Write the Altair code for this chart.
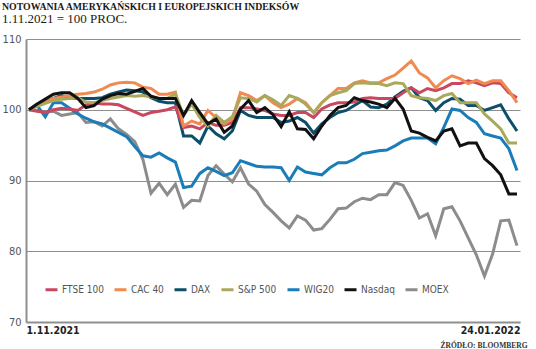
import altair as alt
import pandas as pd

# trading-day index 0..60 (1.11.2021 .. 24.01.2022)
ftse = [100, 99.8, 99.6, 100.0, 100.2, 100.1, 99.9, 100.7, 101.0, 100.8,
        100.8, 100.7, 100.2, 99.7, 99.2, 99.6, 99.8, 100.0, 100.4, 97.5,
        97.7, 97.3, 98.2, 97.8, 97.8, 98.2, 100.3, 100.3, 100.1, 99.9,
        99.4, 99.2, 99.2, 99.6, 99.6, 98.9, 100.1, 100.7, 101.0, 101.0,
        101.1, 101.6, 101.7, 101.6, 101.6, 101.6, 102.4, 103.1, 102.4, 103.0,
        102.7, 103.1, 103.7, 103.7, 104.1, 103.8, 103.4, 103.8, 103.7, 102.4,
        101.7]
cac = [100, 100.6, 101.1, 101.6, 101.8, 102.0, 102.2, 102.3, 102.5, 102.9,
       103.5, 103.8, 103.9, 103.8, 103.2, 103.0, 102.2, 102.2, 102.5, 97.7,
       98.4, 98.0, 99.9, 98.9, 98.0, 98.7, 102.4, 102.0, 101.3, 102.0,
       101.0, 100.3, 100.8, 101.6, 101.0, 99.6, 101.0, 102.0, 103.0, 103.0,
       103.8, 104.1, 103.8, 103.8, 104.4, 104.9, 105.9, 106.9, 105.2, 104.5,
       103.1, 104.1, 104.8, 104.4, 103.7, 104.2, 103.7, 104.1, 104.1, 102.7,
       101.0]
dax = [100, 100.8, 101.0, 101.6, 102.0, 101.7, 101.6, 101.6, 101.6, 101.7,
       102.2, 102.5, 102.8, 102.7, 102.5, 101.7, 101.2, 101.0, 101.0, 96.3,
       96.3, 95.3, 97.7, 96.6, 95.9, 97.0, 99.9, 99.2, 98.9, 98.9,
       98.9, 98.2, 98.4, 98.9, 98.2, 96.7, 98.0, 98.9, 99.6, 99.9,
       100.6, 101.3, 100.4, 100.3, 100.8, 101.8, 102.6, 103.1, 101.7, 101.3,
       99.9, 101.0, 101.6, 101.5, 100.6, 100.6, 99.9, 100.3, 100.7, 98.7,
       97.0]
sp500 = [100, 100.5, 100.9, 101.3, 101.5, 101.6, 101.7, 101.1, 101.0, 101.3,
         101.6, 101.8, 102.0, 101.9, 102.0, 101.8, 101.6, 101.6, 102.2, 99.2,
         100.8, 98.9, 97.7, 99.2, 98.2, 99.0, 101.7, 101.6, 101.1, 102.0,
         101.4, 100.6, 102.0, 101.6, 100.8, 99.6, 101.0, 102.0, 102.4, 102.7,
         103.7, 103.8, 103.7, 103.7, 103.4, 103.8, 103.7, 102.0, 101.7, 101.6,
         101.3, 102.0, 102.3, 101.0, 101.0, 101.0, 99.4, 98.4, 97.3, 95.3,
         95.3]
wig20 = [100, 100.6, 99.0, 101.0, 101.0, 100.2, 99.4, 98.8, 98.3, 98.0,
         97.4, 96.8, 96.2, 94.8, 93.5, 93.3, 93.9, 93.2, 92.6, 89.0,
         89.2, 91.0, 91.8, 91.3, 90.7, 91.1, 92.8, 92.4, 92.0, 91.9,
         91.9, 91.8, 90.0, 91.9, 91.2, 91.0, 90.8, 91.8, 92.5, 92.5,
         93.0, 93.8, 94.0, 94.2, 94.3, 94.9, 95.6, 96.0, 96.0, 96.0,
         95.2, 97.5, 100.1, 99.9, 98.9, 98.2, 96.6, 96.3, 96.0, 94.5,
         91.4]
nasdaq = [100, 100.8, 101.5, 102.2, 102.4, 102.4, 101.6, 100.3, 100.6, 101.5,
          102.0, 102.3, 102.2, 102.6, 103.0, 101.9, 101.6, 101.6, 101.6, 99.2,
          101.3, 99.6, 98.0, 98.7, 96.8, 97.7, 100.1, 101.3, 99.6, 100.3,
          99.3, 97.6, 99.7, 97.3, 97.2, 95.9, 97.7, 99.2, 100.3, 100.6,
          101.7, 101.3, 101.1, 100.8, 100.3, 101.6, 100.1, 97.0, 96.7, 96.1,
          95.6, 97.0, 97.3, 94.9, 95.3, 95.3, 93.1, 92.1, 90.8, 88.1,
          88.1]
moex = [100, 99.9, 99.7, 99.8, 99.2, 99.4, 99.6, 98.2, 98.3, 97.7,
        98.7, 97.3, 96.5, 95.5, 93.0, 88.2, 89.6, 88.0, 89.5, 86.2,
        87.2, 87.1, 90.7, 92.1, 90.9, 89.8, 91.8, 89.5, 88.5, 86.6,
        85.5, 84.3, 83.3, 85.0, 84.4, 83.0, 83.2, 84.5, 86.0, 86.1,
        87.0, 87.5, 87.3, 88.0, 88.0, 89.7, 89.3, 87.2, 84.7, 85.3,
        82.2, 86.0, 86.3, 84.3, 81.9, 79.5, 76.5, 79.6, 84.3, 84.4,
        80.8]

series_names = ["FTSE 100", "CAC 40", "DAX", "S&P 500", "WIG20", "Nasdaq", "MOEX"]
series_colors = ["#c9485f", "#f08a50", "#0d4e6b", "#a8a95c", "#1b7db8", "#111111", "#8c8c8c"]
series_values = {"FTSE 100": ftse, "CAC 40": cac, "DAX": dax, "S&P 500": sp500,
                 "WIG20": wig20, "Nasdaq": nasdaq, "MOEX": moex}
draw_order = ["MOEX", "WIG20", "DAX", "FTSE 100", "CAC 40", "S&P 500", "Nasdaq"]
x_labels = ["1.11.2021", "24.01.2022"]
y_ticks = [70, 80, 90, 100, 110]

rows = []
for name in draw_order:
    for i, v in enumerate(series_values[name]):
        rows.append({"i": i, "v": v, "s": name})
df = pd.DataFrame(rows)

NARROW = "Liberation Sans Narrow, DejaVu Sans Condensed, Roboto, sans-serif"
GRID = "#8f8f8f"
x0, x1 = -0.37, 60.37

chart = alt.Chart(df).mark_line(strokeWidth=3).encode(
    x=alt.X("i:Q",
            scale=alt.Scale(domain=[x0, x1], nice=False, zero=False),
            axis=alt.Axis(values=[x0, x1],
                          labelExpr=f"datum.value < 30 ? '{x_labels[0]}' : '{x_labels[1]}'",
                          labelFlush=True, grid=False, ticks=False,
                          domain=True, domainColor=GRID, domainWidth=2,
                          labelFont=NARROW, labelFontWeight="bold", labelFontSize=10.5,
                          labelColor="#222222", labelPadding=3, labelBaseline="top",
                          title="ŹRÓDŁO: BLOOMBERG", titleX=501, titleY=25,
                          titleAlign="right", titleAnchor="end", titleBaseline="alphabetic",
                          titleFont="Liberation Serif", titleFontSize=7.5,
                          titleFontWeight="bold", titleColor="#333333")),
    y=alt.Y("v:Q",
            scale=alt.Scale(domain=[70, 110], nice=False, zero=False),
            axis=alt.Axis(values=y_ticks, grid=True, gridColor=GRID, gridWidth=1.2,
                          ticks=False, domain=True, domainColor=GRID, domainWidth=2,
                          labelFont=NARROW, labelFontSize=11, labelColor="#555555",
                          labelPadding=5, title=None)),
    color=alt.Color("s:N",
                    scale=alt.Scale(domain=series_names, range=series_colors),
                    legend=alt.Legend(orient="none", legendX=18, legendY=243,
                                      direction="horizontal", columns=7, title=None,
                                      symbolType="stroke", symbolStrokeWidth=3,
                                      symbolSize=144, labelFont=NARROW, labelFontSize=10,
                                      labelColor="#555555", columnPadding=4,
                                      labelOffset=3, padding=0)),
).properties(
    width=494, height=283,
    padding={"left": 26, "top": 39, "right": 16, "bottom": 27},
    autosize=alt.AutoSizeParams(type="none"),
    title=alt.TitleParams(
        text="NOTOWANIA AMERYKAŃSKICH I EUROPEJSKICH INDEKSÓW",
        subtitle="1.11.2021 = 100 PROC.",
        anchor="start", frame="group", dx=-24, offset=7,
        font="Liberation Serif", fontSize=9.8, fontWeight="bold", color="#1a1a1a",
        subtitleFont="Liberation Serif", subtitleFontSize=13, subtitleColor="#1a1a1a",
        subtitlePadding=1),
).configure_view(stroke=None)

chart.save("out.html", embed_options={"renderer": "svg", "actions": False})
